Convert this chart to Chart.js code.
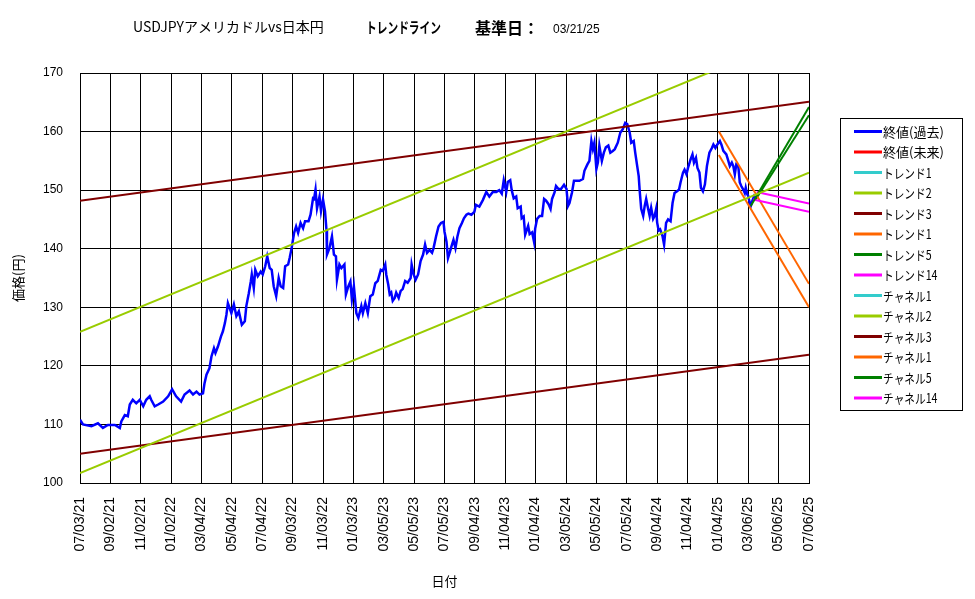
<!DOCTYPE html>
<html><head><meta charset="utf-8">
<script src="https://cdn.jsdelivr.net/npm/chart.js@4"></script>
<style>html,body{margin:0;padding:0;background:#fff}#wrap{width:975px;height:599px}</style>
</head><body><div id="wrap"><canvas id="c" width="975" height="599"></canvas></div>
<script>
// ---------- text ----------
const chartTitle = 'USDJPYアメリカドルvs日本円';
const chartSubtitle = 'トレンドライン';
const baseDateLabel = '基準日：';
const baseDate = '03/21/25';
const xAxisTitle = '日付';
const yAxisTitle = '価格(円)';

// ---------- axis ticks ----------
// x axis: calendar days counted from 07/03/21, one tick every 61 days
const xTickLabels = ['07/03/21','09/02/21','11/02/21','01/02/22','03/04/22','05/04/22','07/04/22','09/03/22','11/03/22','01/03/23','03/05/23','05/05/23','07/05/23','09/04/23','11/04/23','01/04/24','03/05/24','05/05/24','07/05/24','09/04/24','11/04/24','01/04/25','03/06/25','05/06/25','07/06/25'];
const xTickStepDays = 61;
const yMin = 100, yMax = 170, yStep = 10;

// ---------- series names (legend order) ----------
const seriesNames = ['終値(過去)','終値(未来)','トレンド1','トレンド2','トレンド3','トレンド1','トレンド5','トレンド14','チャネル1','チャネル2','チャネル3','チャネル1','チャネル5','チャネル14'];
const seriesColors = ['#0000FF','#FF0000','#33CCCC','#99CC00','#800000','#FF6600','#008000','#FF00FF','#33CCCC','#99CC00','#800000','#FF6600','#008000','#FF00FF'];

// ---------- data: [day index, price] ----------
const closePast = [
[0,110.8],[6,110.0],[23,109.7],[36,110.2],[46,109.4],[56,109.9],[70,109.9],[80,109.4],[83,110.5],[90,111.6],[96,111.4],[100,113.4],[106,114.2],[113,113.6],[120,114.2],[127,113.1],[133,114.2],[140,114.8],[143,114.2],[150,113.1],[157,113.4],[167,113.9],[177,114.8],[185,116.0],[193,114.8],[203,113.9],[210,115.1],[220,115.8],[227,115.1],[234,115.6],[240,115.1],[247,115.3],[250,117.0],[254,118.5],[260,119.6],[264,121.6],[269,123.0],[272,122.2],[277,123.3],[283,125.0],[287,125.9],[291,127.3],[294,128.7],[297,130.7],
[304,129.0],[309,130.5],[314,128.5],[319,129.3],[325,127.0],[331,127.6],[334,130.2],[339,132.4],[343,134.4],[345,135.6],[349,133.3],[352,136.4],[357,135.3],[363,136.1],[367,135.6],[372,137.0],[376,138.7],[381,136.7],[385,136.4],[389,133.6],[394,131.9],[399,135.0],[403,133.6],[408,133.3],[412,137.0],[418,137.3],[421,138.4],[425,140.1],[430,142.7],[434,143.8],[438,142.7],[443,144.4],[448,143.5],[452,144.7],[459,144.7],[463,145.8],[468,148.6],[470,148.5],[473,150.1],[476,146.9],[481,148.9],[484,146.4],[488,148.4],[492,146.4],[495,143.2],[496,139.0],[501,140.1],[506,142.1],[510,139.0],[514,138.7],[516,134.7],[521,137.3],[525,136.7],[531,137.3],[534,132.2],[539,133.6],[543,134.4],[546,131.3],[550,133.6],[555,129.0],[559,128.2],[565,130.2],[568,129.0],[573,130.7],[578,129.0],[583,131.9],[588,132.2],[593,134.1],
[598,134.5],[604,136.4],[608,136.2],[613,137.3],[615,135.6],[619,133.9],[622,132.2],[625,132.5],[628,131.1],[632,131.6],[635,132.5],[640,131.6],[644,132.8],[648,133.1],[653,134.5],[658,134.2],[664,135.0],[666,137.3],[670,135.6],[674,134.7],[679,135.6],[684,137.9],[689,139.0],[693,140.7],[697,139.3],[702,139.8],[707,139.3],[710,140.1],[715,142.1],[720,143.8],[725,144.4],[730,144.6],[732,142.9],[736,141.2],[739,138.4],[743,139.5],[746,140.4],[750,141.5],[754,140.1],[758,142.1],[762,143.5],[767,144.4],[771,145.2],[776,145.8],[780,146.0],[786,145.8],[792,146.3],[795,147.5],[802,147.2],[809,148.3],[816,149.7],[822,148.9],[829,149.7],[836,149.7],[842,150.0],[847,149.4],[851,151.7],[856,149.7],[859,151.4],[864,151.7],[867,150.0],[871,148.6],[876,148.9],[879,146.9],[885,147.2],[887,145.2],[891,145.5],[894,142.4],
[900,143.9],[903,142.5],[908,142.8],[912,141.1],[914,143.4],[918,145.1],[923,145.6],[928,145.6],[932,148.5],[936,148.2],[941,147.6],[945,146.8],[948,148.5],[953,149.6],[956,150.7],[961,150.2],[966,150.2],[972,150.9],[977,150.2],[980,147.3],[983,147.8],[988,149.6],[992,151.6],[997,151.6],[1003,151.6],[1010,151.9],[1013,153.3],[1019,154.4],[1023,155.0],[1027,158.4],[1030,157.0],[1033,158.1],[1037,153.6],[1040,154.7],[1043,157.6],[1048,155.0],[1052,156.4],[1056,157.3],[1061,157.6],[1065,156.4],[1070,156.7],[1074,157.0],[1080,158.1],[1085,159.8],[1090,160.4],[1095,161.5],[1099,161.3],[1104,159.8],[1107,158.1],[1112,158.4],[1115,156.4],[1119,154.1],[1122,152.4],[1124,149.9],[1127,146.8],[1131,145.6],[1134,147.3],[1137,148.5],[1141,146.8],[1144,145.6],[1147,147.0],[1151,145.1],[1154,145.6],[1157,146.8],[1159,144.5],[1162,143.1],
[1165,143.3],[1170,142.1],[1173,140.7],[1177,144.4],[1181,145.0],[1186,144.7],[1190,147.8],[1194,149.5],[1199,149.8],[1203,150.1],[1206,151.3],[1211,153.0],[1214,153.5],[1218,152.7],[1221,153.8],[1226,155.2],[1230,156.1],[1233,154.7],[1237,155.5],[1240,153.8],[1244,153.0],[1247,150.4],[1251,149.8],[1255,151.0],[1259,154.1],[1264,156.4],[1269,157.2],[1272,157.8],[1276,157.2],[1280,157.8],[1285,158.4],[1288,157.8],[1292,156.7],[1295,156.4],[1298,156.1],[1302,155.0],[1305,154.1],[1309,154.7],[1312,154.1],[1315,152.7],[1318,154.4],[1322,154.1],[1325,151.3],[1328,150.7],[1332,150.1],[1335,149.5],[1337,150.4],[1340,149.3],[1342,149.0],[1345,147.8],[1347,147.3],[1350,148.1],[1354,149.0],[1357,148.7]
];
const closeFuture = [];
const trend1 = [];
const trend2 = [[0,101.7],[1464,153.0]];
const trend3 = [[0,105.0],[1464,121.9]];
const trend1b = [[1283,156.0],[1464,130.0]];
const trend5 = [[1347,147.3],[1464,164.2]];
const trend14 = [[1352,148.4],[1464,146.3]];
const channel1 = [];
const channel2 = [[0,125.8],[1464,177.1]];
const channel3 = [[0,148.2],[1464,165.1]];
const channel1b = [[1283,160.0],[1464,134.0]];
const channel5 = [[1356,148.3],[1464,162.8]];
const channel14 = [[1359,149.7],[1464,147.7]];

const seriesData = [closePast, closeFuture, trend1, trend2, trend3, trend1b, trend5, trend14, channel1, channel2, channel3, channel1b, channel5, channel14];

// ---------- chart ----------
const datasets = seriesData.map((arr, i) => ({
  label: seriesNames[i],
  data: arr.map(p => ({x: p[0], y: p[1]})),
  borderColor: seriesColors[i],
  backgroundColor: seriesColors[i],
  borderWidth: i === 0 ? 2.5 : 2,
  pointRadius: 0,
  tension: 0,
  fill: false,
  order: i === 0 ? 1 : 0
}));

const titlePlugin = {
  id: 'titles',
  afterDraw(chart) {
    const ctx = chart.ctx;
    ctx.save();
    ctx.fillStyle = '#000';
    ctx.textBaseline = 'alphabetic';
    ctx.textAlign = 'left';
    ctx.font = '14px "Noto Sans CJK JP"';
    ctx.fillText(chartTitle, 133, 32, 199);
    ctx.font = 'bold 15px "Noto Sans CJK JP"';
    ctx.fillText(chartSubtitle, 366, 33, 75);
    ctx.font = 'bold 16px "Noto Sans CJK JP"';
    ctx.fillText(baseDateLabel, 475, 34, 68);
    ctx.font = '12px "Liberation Sans"';
    ctx.fillText(baseDate, 553, 33);
    ctx.restore();
  }
};

const legendPlugin = {
  id: 'boxLegend',
  afterDraw(chart) {
    const ctx = chart.ctx;
    ctx.save();
    ctx.fillStyle = '#fff';
    ctx.fillRect(840, 118, 122, 292);
    ctx.strokeStyle = '#000';
    ctx.lineWidth = 1;
    ctx.strokeRect(840.5, 118.5, 122, 292);
    chart.data.datasets.forEach((ds, i) => {
      const y = 131.5 + i * 20.5;
      ctx.strokeStyle = ds.borderColor;
      ctx.lineWidth = 3;
      ctx.beginPath(); ctx.moveTo(854, y); ctx.lineTo(882, y); ctx.stroke();
      ctx.fillStyle = '#000';
      ctx.font = '13px "Noto Sans CJK JP"';
      ctx.textBaseline = 'middle';
      ctx.textAlign = 'left';
      const w = ctx.measureText(ds.label).width;
      const squeeze = i < 2 ? 1 : 0.82;
      ctx.fillText(ds.label, 883, y + 0.5, w * squeeze);
    });
    ctx.restore();
  }
};

new Chart(document.getElementById('c'), {
  type: 'line',
  data: { datasets },
  plugins: [titlePlugin, legendPlugin],
  options: {
    responsive: false,
    animation: false,
    parsing: true,
    layout: { padding: { left: 0, right: 166, top: 73, bottom: 0 } },
    plugins: { legend: { display: false }, tooltip: { enabled: false }, title: { display: false } },
    scales: {
      x: {
        type: 'linear',
        min: 0,
        max: (xTickLabels.length - 1) * xTickStepDays,
        afterFit(s) { s.height = 116; },
        afterBuildTicks(s) { s.ticks = xTickLabels.map((_, i) => ({ value: i * xTickStepDays })); },
        grid: { color: '#000', lineWidth: 1, drawTicks: false },
        border: { color: '#000', width: 1 },
        ticks: {
          autoSkip: false, maxRotation: 90, minRotation: 90, padding: 14, color: '#000',
          font: { family: 'Liberation Sans', size: 14 },
          callback: (v) => xTickLabels[Math.round(v / xTickStepDays)]
        },
        title: { display: true, text: xAxisTitle, color: '#000', font: { family: 'Noto Sans CJK JP', size: 13 }, padding: { top: 0, bottom: 10 } }
      },
      y: {
        min: yMin, max: yMax,
        afterFit(s) { s.width = 80; },
        grid: { color: '#000', lineWidth: 1, drawTicks: false },
        border: { color: '#000', width: 1 },
        ticks: { stepSize: yStep, padding: 17, color: '#000', font: { family: 'Liberation Sans', size: 12 } },
        title: { display: true, text: yAxisTitle, color: '#000', font: { family: 'Noto Sans CJK JP', size: 13 }, padding: { top: 10, bottom: 0 } }
      }
    }
  }
});
</script>
</body></html>
